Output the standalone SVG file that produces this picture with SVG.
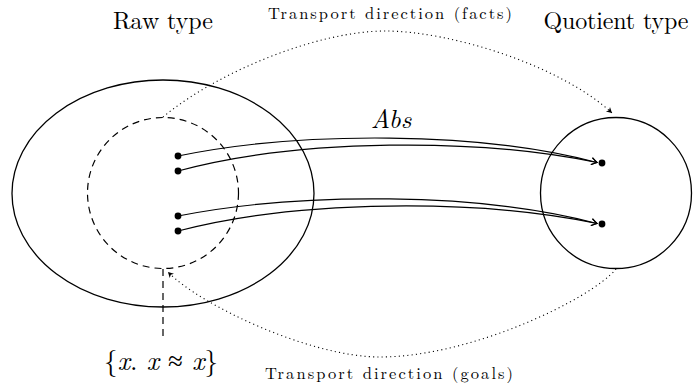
<svg xmlns="http://www.w3.org/2000/svg" width="693" height="387" viewBox="0 0 693 387">
<defs>
<style>
.solid{fill:none;stroke:#000;stroke-width:1.3}
.dashed{fill:none;stroke:#000;stroke-width:1.2;stroke-dasharray:7 5}
.arrow{fill:none;stroke:#000;stroke-width:1.2;marker-end:url(#arr)}
.dotarrow{fill:none;stroke:#000;stroke-width:1.1;stroke-dasharray:1.1 3.2;marker-end:url(#tip)}
.lbl{font-family:"Latin Modern Roman","Liberation Serif",serif;fill:#000}
.dot{fill:#000}
</style>
<marker id="arr" viewBox="-6 -4 7 8" refX="0" refY="0" markerWidth="7" markerHeight="8" markerUnits="userSpaceOnUse" orient="auto">
<path d="M-5.5,-3.5 Q-1.5,-0.8 0,0 Q-1.5,0.8 -5.5,3.5" fill="none" stroke="#000" stroke-width="1.1"/>
</marker>
<marker id="tip" viewBox="-6 -4 7 8" refX="0" refY="0" markerWidth="7" markerHeight="8" markerUnits="userSpaceOnUse" orient="auto">
<path d="M0,0 L-5.5,-3 L-4,0 L-5.5,3 Z" fill="#000"/>
</marker>
</defs>
<g id="raw">
<ellipse class="solid" cx="163" cy="193.5" rx="151" ry="113.5"/>
<text class="lbl" x="163" y="29" font-size="24" text-anchor="middle" textLength="100" lengthAdjust="spacing">Raw type</text>
</g>
<g id="refl">
<circle class="dashed" cx="163" cy="193" r="75.5"/>
<line class="dashed" x1="163" y1="269" x2="163" y2="341"/>
<text class="lbl" x="161" y="370" font-size="27" text-anchor="middle" textLength="114" lengthAdjust="spacing">{<tspan font-style="italic">x</tspan>. <tspan font-style="italic">x</tspan> ≈ <tspan font-style="italic">x</tspan>}</text>
</g>
<g id="quot">
<circle class="solid" cx="616" cy="193" r="75.5"/>
<text class="lbl" x="616" y="29" font-size="24" text-anchor="middle" textLength="145" lengthAdjust="spacing">Quotient type</text>
</g>
<g id="points">
<circle class="dot" cx="178" cy="156" r="3.4"/>
<circle class="dot" cx="178" cy="171" r="3.4"/>
<circle class="dot" cx="178" cy="216" r="3.4"/>
<circle class="dot" cx="178" cy="231" r="3.4"/>
<circle class="dot" cx="602" cy="163" r="3.4"/>
<circle class="dot" cx="602" cy="224" r="3.4"/>
</g>
<g id="connectors">
<path class="arrow" d="M178,156 C300,131 480,131 597,162.5"/>
<path class="arrow" d="M178,171 C300,138 480,138 597,162.5"/>
<path class="arrow" d="M178,216 C300,192 480,192 597,223.5"/>
<path class="arrow" d="M178,231 C300,199 480,199 597,223.5"/>
<text class="lbl" x="391" y="128" font-size="26" font-style="italic" text-anchor="middle">Abs</text>
<path class="dotarrow" d="M163,117 C220,70 320,31 385,31 C450,31 560,65 612,113"/>
<path class="dotarrow" d="M616,269 C590,300 470,357 380,357 C310,357 200,305 168,272"/>
<text class="lbl" x="390" y="19" font-size="16.5" text-anchor="middle" textLength="244" lengthAdjust="spacing">Transport direction (facts)</text>
<text class="lbl" x="389" y="379" font-size="16.5" text-anchor="middle" textLength="248" lengthAdjust="spacing">Transport direction (goals)</text>
</g>
</svg>
